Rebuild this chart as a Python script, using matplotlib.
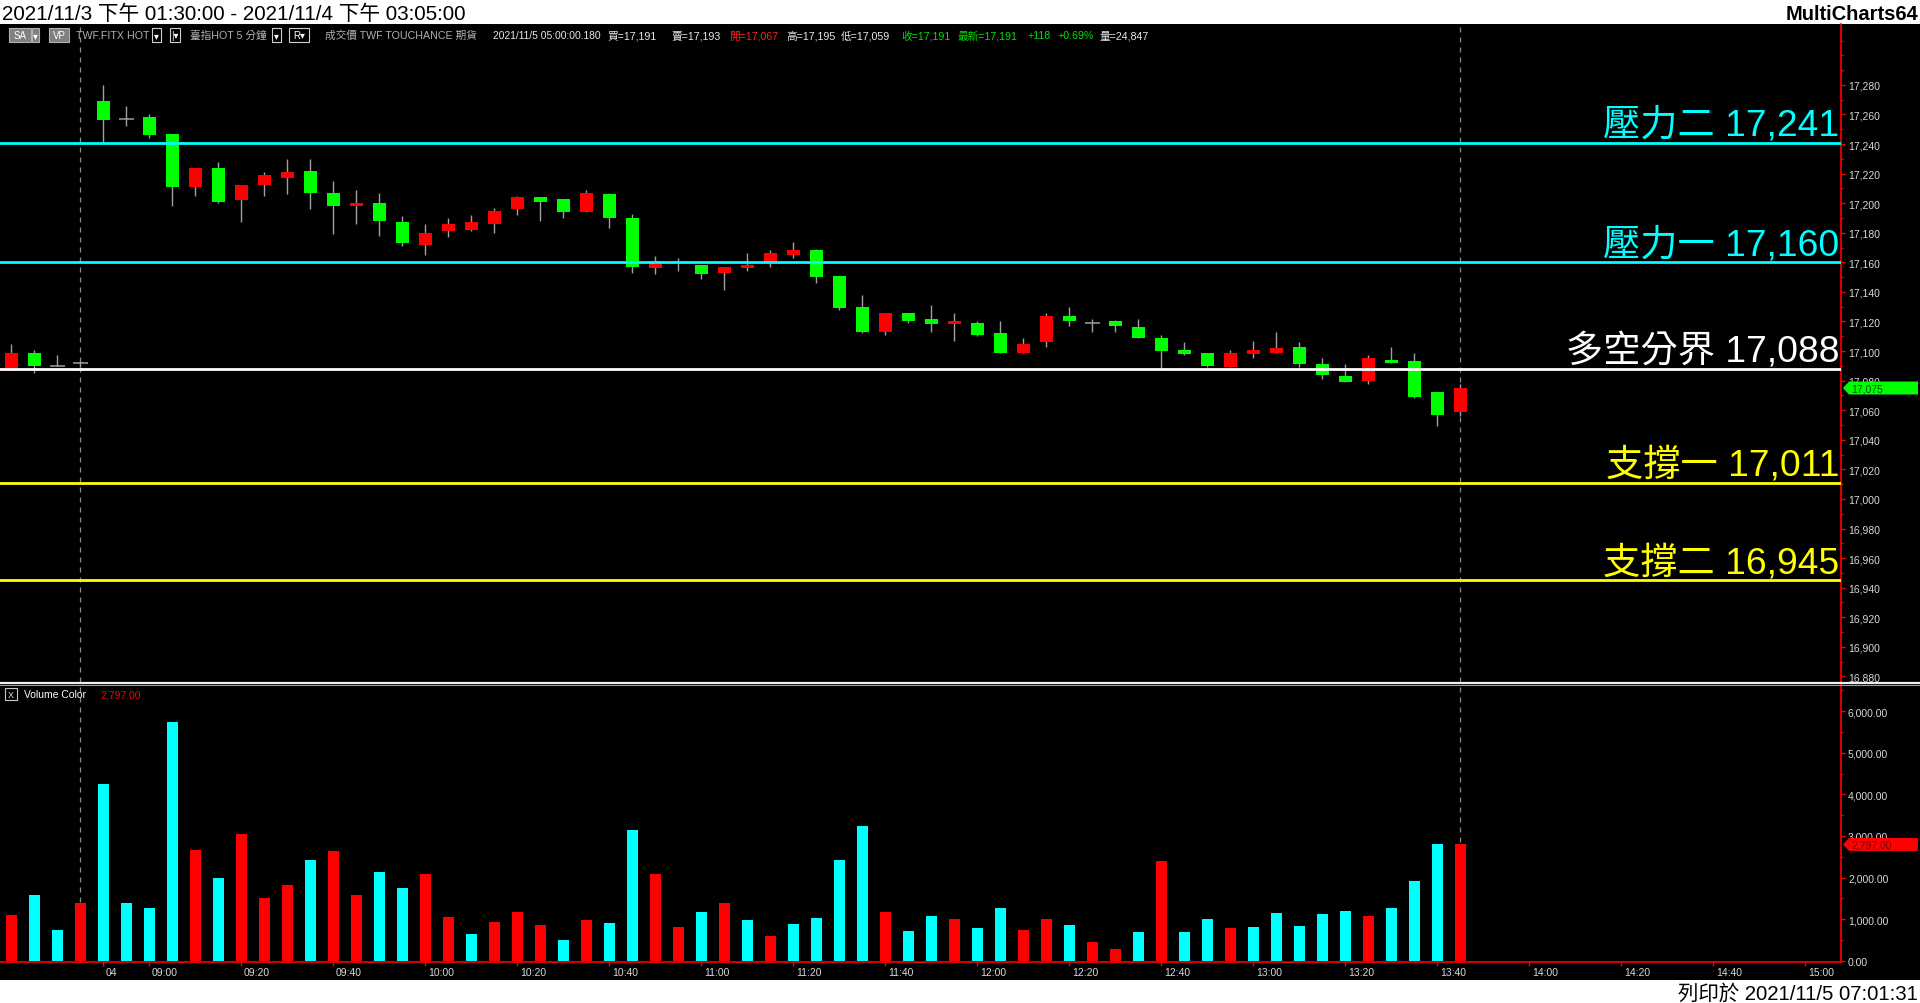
import matplotlib
matplotlib.use('Agg')
import matplotlib.pyplot as plt
from matplotlib.patches import Rectangle, Polygon
from matplotlib.lines import Line2D
from matplotlib.ticker import FixedLocator, FuncFormatter

# ---------------- data ----------------
opens = [17088, 17099, 17090, 17092, 17269, 17257, 17258, 17247, 17211, 17224,
         17202, 17212, 17217, 17222, 17207, 17198, 17200, 17187, 17172, 17181,
         17182, 17186, 17196, 17204, 17203, 17194, 17206, 17190, 17156, 17160,
         17158, 17153, 17156, 17160, 17165, 17168, 17151, 17130, 17113, 17126,
         17122, 17118, 17119, 17112, 17099, 17106, 17124, 17119, 17120, 17116,
         17109, 17101, 17099, 17089, 17098, 17099, 17103, 17091, 17083, 17080,
         17094, 17093, 17072, 17059]
highs = [17105, 17101, 17097, 17093, 17280, 17266, 17260, 17247, 17224, 17228,
         17212, 17221, 17230, 17230, 17215, 17209, 17207, 17191, 17186, 17190,
         17192, 17197, 17205, 17204, 17203, 17209, 17207, 17193, 17164, 17163,
         17158, 17157, 17166, 17168, 17174, 17169, 17151, 17138, 17126, 17126,
         17131, 17126, 17120, 17120, 17109, 17126, 17130, 17122, 17121, 17122,
         17111, 17106, 17099, 17101, 17107, 17113, 17106, 17095, 17091, 17097,
         17103, 17099, 17072, 17078]
lows = [17087, 17085, 17090, 17089, 17241, 17252, 17244, 17198, 17205, 17200,
        17187, 17205, 17206, 17196, 17179, 17186, 17178, 17171, 17165, 17177,
        17181, 17180, 17192, 17188, 17190, 17194, 17183, 17153, 17152, 17154,
        17149, 17141, 17154, 17157, 17163, 17146, 17128, 17112, 17111, 17119,
        17113, 17107, 17110, 17099, 17099, 17103, 17117, 17113, 17113, 17109,
        17088, 17097, 17089, 17089, 17095, 17099, 17089, 17081, 17079, 17078,
        17092, 17068, 17049, 17056]
closes = [17099, 17090, 17090, 17092, 17256, 17257, 17246, 17211, 17224, 17201,
          17212, 17219, 17221, 17207, 17198, 17200, 17188, 17173, 17180, 17186,
          17187, 17195, 17204, 17201, 17194, 17207, 17190, 17157, 17161, 17161,
          17152, 17157, 17158, 17166, 17168, 17150, 17129, 17113, 17126, 17120,
          17118, 17120, 17111, 17099, 17105, 17124, 17120, 17119, 17117, 17109,
          17100, 17098, 17090, 17099, 17101, 17102, 17091, 17084, 17079, 17095,
          17092, 17069, 17057, 17075]
volumes = [1099, 1580, 738, 1388, 4251, 1388, 1268, 5742, 2663, 1989,
           3048, 1508, 1821, 2422, 2639, 1580, 2134, 1749, 2086, 1051,
           642, 931, 1172, 859, 498, 979, 907, 3144, 2086, 811,
           1172, 1388, 979, 594, 883, 1027, 2422, 3240, 1172, 714,
           1075, 1003, 787, 1268, 738, 1003, 859, 450, 281, 690,
           2398, 690, 1003, 787, 811, 1147, 835, 1123, 1196, 1075,
           1268, 1917, 2807, 2797]
volume_dirs = list("rccrccccrcrrrcrrccrrcrrrcrccrrc"
                   "rcrcccc" "rccrccrrcrrcrccrcccccrcccr")
level_names = ['壓力二', '壓力一', '多空分界', '支撐一', '支撐二']
level_prices = [17241, 17160, 17088, 17011, 16945]
level_colors = ['#00FFFF', '#00FFFF', '#FFFFFF', '#FFFF00', '#FFFF00']
time_tick_bars = [4, 6, 10, 14, 18, 22, 26, 30, 34, 38, 42, 46, 50, 54, 58, 62, 66, 70, 74, 78]
time_tick_labels = ['04', '09:00', '09:20', '09:40', '10:00', '10:20', '10:40', '11:00', '11:20',
                    '11:40', '12:00', '12:20', '12:40', '13:00', '13:20', '13:40', '14:00',
                    '14:20', '14:40', '15:00']
price_ticks = list(range(16880, 17281, 20))
volume_ticks = [0, 1000, 2000, 3000, 4000, 5000, 6000]
session_break_bars = [3, 63]
last_price = 17075
last_volume = 2797

title_text = '2021/11/3 下午 01:30:00 - 2021/11/4 下午 03:05:00'
brand_text = 'MultiCharts64'
print_text = '列印於 2021/11/5 07:01:31'

# ---------------- figure ----------------
W, H = 1920, 1004
fig = plt.figure(figsize=(W / 100, H / 100), dpi=100, facecolor='white')
FAM = ['Liberation Sans', 'Noto Sans CJK TC', 'DejaVu Sans']
AXC = '#d8d8d8'
RED = '#FF0000'


def fx(px):
    return px / W


def fy(py):
    return 1 - py / H


def px_rect(x0, y0, x1, y1, **kw):
    fig.patches.append(Rectangle((fx(x0), fy(y1)), (x1 - x0) / W, (y1 - y0) / H,
                                 transform=fig.transFigure, **kw))


# black body of the window
px_rect(0, 24.5, W, 981, facecolor='black', edgecolor='none', zorder=-5)

ax = fig.add_axes([0, fy(683), fx(1841), fy(24.5) - fy(683)], facecolor='black')
axv = fig.add_axes([0, fy(963), fx(1841), fy(685) - fy(963)], facecolor='black', sharex=ax)

xmin, xmax = -0.487, 79.56
ax.set_xlim(xmin, xmax)
ax.set_ylim(16876.2, 17321.5)
axv.set_ylim(-31, 6656)

for a in (ax, axv):
    for s in ('top', 'left', 'bottom'):
        a.spines[s].set_visible(False)
    a.spines['right'].set_color(RED)
    a.spines['right'].set_linewidth(1.2)
    a.yaxis.tick_right()
axv.spines['bottom'].set_visible(True)
axv.spines['bottom'].set_color(RED)
axv.spines['bottom'].set_linewidth(1.2)

# price axis ticks
ax.yaxis.set_major_locator(FixedLocator(price_ticks))
ax.yaxis.set_minor_locator(FixedLocator([p + 10 for p in price_ticks] + [price_ticks[0] - 10, 17290, 17300, 17310]))
ax.yaxis.set_major_formatter(FuncFormatter(lambda v, p: f'{v:,.0f}'))
ax.tick_params(axis='y', which='major', colors=RED, labelcolor=AXC, labelsize=7.5, length=3, width=1, pad=2)
ax.tick_params(axis='y', which='minor', colors=RED, length=1.5, width=1)
ax.tick_params(axis='x', which='both', bottom=False, labelbottom=False)
for t in ax.get_yticklabels():
    t.set_family(FAM)

# volume axis ticks
axv.yaxis.set_major_locator(FixedLocator(volume_ticks))
axv.yaxis.set_minor_locator(FixedLocator([v + 500 for v in volume_ticks]))
axv.yaxis.set_major_formatter(FuncFormatter(lambda v, p: f'{v:,.2f}'))
axv.tick_params(axis='y', which='major', colors=RED, labelcolor=AXC, labelsize=7.5, length=3, width=1, pad=2)
axv.tick_params(axis='y', which='minor', colors=RED, length=1.5, width=1)
axv.xaxis.set_major_locator(FixedLocator(time_tick_bars))
axv.tick_params(axis='x', which='major', colors=RED, length=3, width=1, labelbottom=False)
for t in axv.get_yticklabels():
    t.set_family(FAM)
for b, lab in zip(time_tick_bars, time_tick_labels):
    axv.annotate(lab, xy=(b, 0), xycoords=('data', 'axes fraction'), xytext=(2, -7.3),
                 textcoords='offset points', ha='left', va='center', color=AXC,
                 fontsize=7.5, family=FAM, annotation_clip=False)

# ---------------- candles ----------------
idx = list(range(len(opens)))
ax.vlines(idx, lows, highs, color='#a0a0a0', lw=1, zorder=2)
body_w = 0.57
for i, o, c in zip(idx, opens, closes):
    if c > o:
        ax.bar(i, c - o, bottom=o, width=body_w, color='#FF0000', linewidth=0, zorder=3)
    elif c < o:
        ax.bar(i, o - c, bottom=c, width=body_w, color='#00FF00', linewidth=0, zorder=3)
    else:
        ax.hlines(o, i - body_w / 2 - 0.04, i + body_w / 2 + 0.04, color='#a0a0a0', lw=1.1, zorder=3)

# level lines and labels
for name, p, col in zip(level_names, level_prices, level_colors):
    ax.axhline(p, color=col, lw=2.0, zorder=4)
    ax.annotate(f'{name} {p:,}', xy=(1, p), xycoords=('axes fraction', 'data'),
                xytext=(-1, 5.6), textcoords='offset points', ha='right', va='baseline',
                color=col, fontsize=26.8, family=FAM, zorder=5)

# session break dashed lines
for b in session_break_bars:
    for a in (ax, axv):
        a.axvline(b, color='#8a8a8a', lw=0.9, ls=(0, (4, 4)), zorder=1)

# ---------------- volume ----------------
vcol = ['#00FFFF' if d == 'c' else '#FF0000' for d in volume_dirs]
axv.bar(idx, volumes, width=0.48, color=vcol, linewidth=0, zorder=3)

# ---------------- tags on the right axis ----------------
def tag(axis, value, text, fc, tc):
    yd = axis.transData.transform((0, value))[1]
    ypx = H - yd
    pts = [(1843, ypx), (1849, ypx - 6.5), (1918, ypx - 6.5), (1918, ypx + 6.5), (1849, ypx + 6.5)]
    fig.patches.append(Polygon([(fx(x), fy(y)) for x, y in pts], closed=True,
                               transform=fig.transFigure, facecolor=fc, edgecolor='none', zorder=5))
    fig.text(fx(1851), fy(ypx), text, color=tc, fontsize=7.5, va='center', ha='left',
             family=FAM, zorder=6)


tag(ax, last_price, f'{last_price:,}', '#00FF00', '#004d00')
tag(axv, last_volume, f'{last_volume:,.2f}', '#FF0000', '#7a0000')

# separator between panels
fig.add_artist(Line2D([0, 1], [fy(683.5), fy(683.5)], transform=fig.transFigure,
                      color='#f0f0f0', lw=1.6, zorder=6))
fig.add_artist(Line2D([0, 1], [fy(685.5), fy(685.5)], transform=fig.transFigure,
                      color='#9a9a9a', lw=0.8, zorder=6))

# Volume legend
px_rect(4.5, 689, 17, 701, facecolor='none', edgecolor='#c8c8c8', lw=0.8, zorder=6)
fig.text(fx(10.75), fy(695), 'X', color='#e0e0e0', fontsize=6.5, ha='center', va='center', family=FAM, zorder=7)
fig.text(fx(24), fy(695), 'Volume Color', color='white', fontsize=7.5, ha='left', va='center', family=FAM, zorder=7)
fig.text(fx(100), fy(695), f'{last_volume:,.2f}', color='#FF0000', fontsize=7.5, ha='left', va='center', family=FAM, zorder=7)

# ---------------- header / footer ----------------
fig.text(fx(2), fy(19.5), title_text, color='black', fontsize=14.9, ha='left', va='baseline', family=FAM)
fig.text(fx(1918), fy(19.5), brand_text, color='black', fontsize=14.5, fontweight='bold',
         ha='right', va='baseline', family=FAM)
fig.text(fx(1918), fy(999.5), print_text, color='black', fontsize=14.7, ha='right', va='baseline', family=FAM)

# info bar
IY = 36
def boxed(x0, x1, txt, fc, ec, tc='white'):
    px_rect(x0, IY - 7, x1, IY + 7, facecolor=fc, edgecolor=ec, lw=0.8, zorder=6)
    fig.text(fx((x0 + x1) / 2), fy(IY), txt, color=tc, fontsize=7, ha='center', va='center',
             family=FAM, zorder=7)


boxed(9, 31, 'SA', '#808080', '#b0b0b0')
boxed(32, 39, '▾', '#808080', '#b0b0b0')
boxed(49, 69, 'VP', '#808080', '#b0b0b0')
boxed(152, 161, '▾', 'black', '#d0d0d0')
boxed(170, 180, '|▾', 'black', '#d0d0d0')
boxed(272, 281, '▾', 'black', '#d0d0d0')
boxed(289, 309, 'R▾', 'black', '#d0d0d0')

info_items = [
    (76, 'TWF.FITX HOT', '#b0b0b0', 7.7),
    (190, '臺指HOT 5 分鐘', '#b0b0b0', 7.7),
    (325, '成交價 TWF TOUCHANCE 期貨', '#b0b0b0', 7.7),
    (493, '2021/11/5 05:00:00.180', '#e8e8e8', 7.4),
    (607, '買=17,191', '#e8e8e8', 7.7),
    (672, '賣=17,193', '#e8e8e8', 7.7),
    (729, '開=17,067', '#FF2020', 7.7),
    (786, '高=17,195', '#e8e8e8', 7.7),
    (841, '低=17,059', '#e8e8e8', 7.7),
    (901, '收=17,191', '#00E000', 7.7),
    (958, '最新=17,191', '#00E000', 7.7),
    (1027, '+118', '#00E000', 7.7),
    (1057, '+0.69%', '#00E000', 7.7),
    (1099, '量=24,847', '#e8e8e8', 7.7),
]
for x, t, c, fs in info_items:
    fig.text(fx(x), fy(IY), t, color=c, fontsize=fs, ha='left', va='center', family=FAM, zorder=7)

fig.savefig('out.png', dpi=100, facecolor='white')
